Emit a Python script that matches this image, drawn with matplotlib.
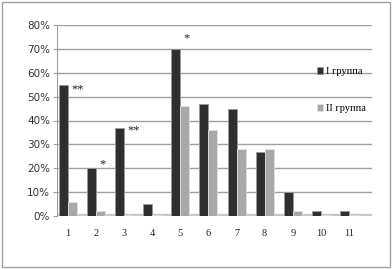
import matplotlib.pyplot as plt
import numpy as np

# data
groups = ['1', '2', '3', '4', '5', '6', '7', '8', '9', '10', '11']
group1 = [55, 20, 37, 5, 70, 47, 45, 27, 10, 2, 2]
group2 = [6, 2, 0.5, 0.5, 46, 36, 28, 28, 2, 0.5, 0.5]
marks = ['**', '*', '**', '', '*', '', '', '', '', '', '']
mark_y = [53, 21.5, 36, 0, 74.5, 0, 0, 0, 0, 0, 0]
yticks = [0, 10, 20, 30, 40, 50, 60, 70, 80]

fig = plt.figure(figsize=(3.92, 2.70), dpi=100)
fig.patch.set_facecolor('white')
# outer frame of the chart
fig.add_artist(plt.Rectangle((0.006, 0.01), 0.988, 0.982, transform=fig.transFigure,
                             fill=False, edgecolor='#a0a0a0', linewidth=1))

ax = fig.add_axes([57 / 392, 1 - 216 / 270, (372 - 57) / 392, (216 - 25) / 270])

x = np.arange(1, len(groups) + 1)
w = 0.32
b1 = ax.bar(x - w / 2, group1, w, color='#2f2f2f', edgecolor='#9a9a9a', linewidth=0.6,
            label='I группа', zorder=3)
b2 = ax.bar(x + w / 2, group2, w, color='#a8a8a8', edgecolor='#e0e0e0', linewidth=0.6,
            label='II группа', zorder=3)

for xi, m, my in zip(x, marks, mark_y):
    if m:
        ax.text(xi + 0.12, my, m, fontsize=9, ha='left', va='center',
                family='Liberation Serif', color='#222222')

# floor strip
ax.axhspan(0, 0.8, color='#c8c8c8', zorder=2)

ax.set_xlim(0.61, 11.82)
ax.set_ylim(0, 80)
ax.set_yticks(yticks)
ax.set_yticklabels([f'{t}%' for t in yticks], fontsize=7.5, family='DejaVu Sans', color='#333333')
ax.set_xticks(x)
ax.set_xticklabels(groups, fontsize=7.5, family='Liberation Serif', color='#222222')
ax.tick_params(axis='x', length=0, pad=9)
ax.tick_params(axis='y', length=3, color='#a0a0a0', pad=2)
ax.yaxis.grid(True, color='#a0a0a0', linewidth=1, zorder=0)
ax.set_axisbelow(True)
for s in ['top', 'right', 'bottom']:
    ax.spines[s].set_visible(False)
ax.spines['left'].set_color('#a0a0a0')

fig.legend(handles=[b1, b2], loc='upper left', bbox_to_anchor=(312 / 392, 1 - 62 / 270),
           frameon=False, prop={'family': 'Liberation Serif', 'size': 7.5},
           handlelength=0.6, handleheight=0.6, handletextpad=0.2, labelspacing=2.7,
           borderpad=0)

fig.savefig('out.png', dpi=100)
